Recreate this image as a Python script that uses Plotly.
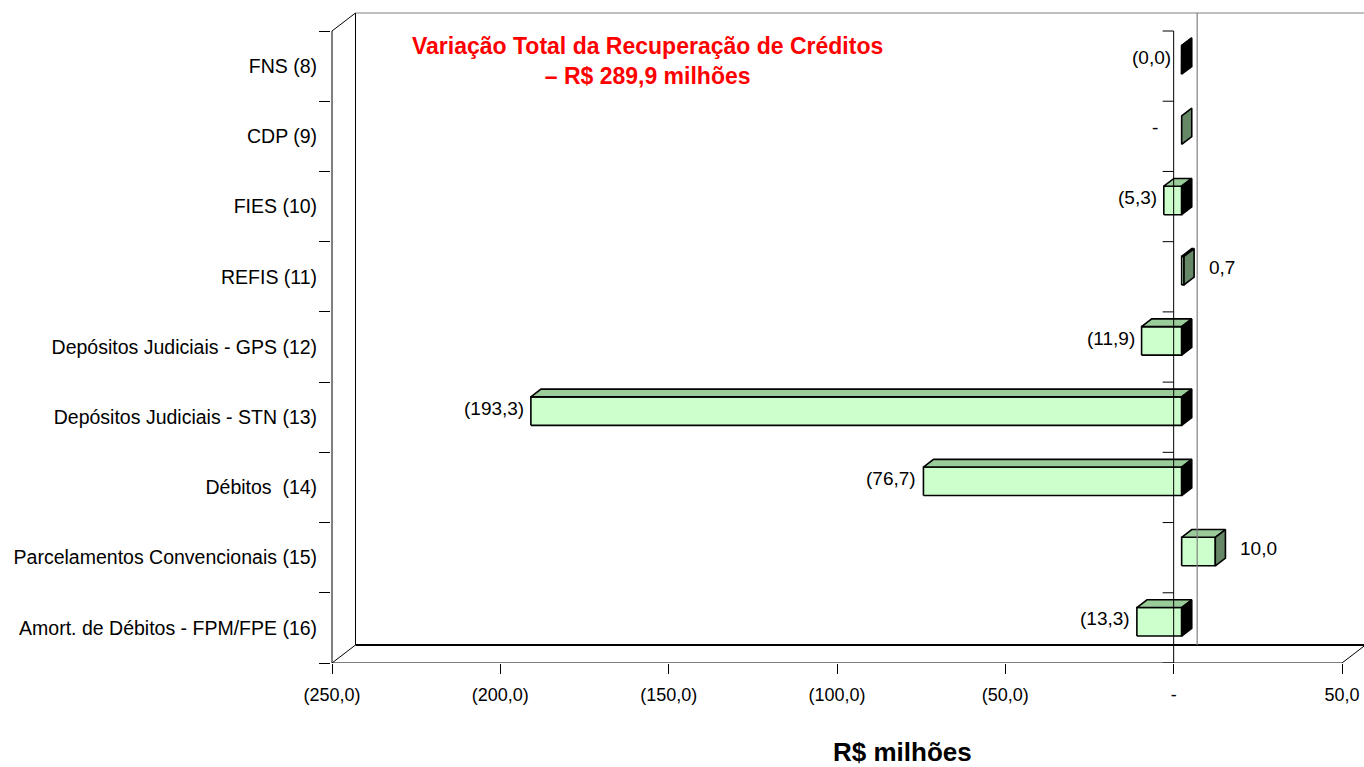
import plotly.graph_objects as go

# ---- data (top to bottom as in the chart) ----
categories = [
    "FNS (8)",
    "CDP (9)",
    "FIES (10)",
    "REFIS (11)",
    "Depósitos Judiciais - GPS (12)",
    "Depósitos Judiciais - STN (13)",
    "Débitos  (14)",
    "Parcelamentos Convencionais (15)",
    "Amort. de Débitos - FPM/FPE (16)",
]
values = [-0.04, 0.0, -5.3, 0.7, -11.9, -193.3, -76.7, 10.0, -13.3]
tick_values = [-250, -200, -150, -100, -50, 0, 50]
tick_labels = ["(250,0)", "(200,0)", "(150,0)", "(100,0)", "(50,0)", "-", "50,0"]
note_text = "Variação Total da Recuperação de Créditos<br>– R$ 289,9 milhões"
axis_title = "R$ milhões"


def fmt(v):
    if abs(v) < 1e-9:
        return "-"
    s = f"{abs(v):.1f}".replace(".", ",")
    return f"({s})" if v < 0 else s


# ---- geometry / layout constants ----
W, H = 1364, 767
L, R, T, B = 331, 0, 0, 104
pw, ph = W - L - R, H - T - B
sx = (1342 - 332) / 300.0          # px per value unit
sy = (663 - 31) / 9.0              # px per category unit
xmin = tick_values[0] - 1 / sx
xmax = xmin + pw / sx
ymax = ph / sy
Dx = 23.5 / sx                     # 3-D depth offset
Dy = 18.0 / sy
f1, f2 = 0.34, 0.77                # bar front/back depth fraction
h = 28.5 / sy                      # bar thickness
n = len(categories)

FRONT = "#CCFFCC"
TOP = "#99CC99"
SIDE_POS = "#668866"
SIDE_NEG = "#000000"
FONT = "Liberation Sans, Arial, sans-serif"

fig = go.Figure()


def P(x, y, f):
    return x + f * Dx, y + f * Dy


def poly(pts, color):
    xs = [p[0] for p in pts] + [pts[0][0]]
    ys = [p[1] for p in pts] + [pts[0][1]]
    fig.add_trace(go.Scatter(
        x=xs, y=ys, mode="lines", fill="toself", fillcolor=color,
        line=dict(color="black", width=1.6), hoverinfo="skip", showlegend=False))


annotations = []
for j, (cat, v) in enumerate(zip(categories, values)):
    i = n - 1 - j
    yc = i + 0.5
    yb, yt = yc - h / 2, yc + h / 2
    x0, x1 = min(0.0, v), max(0.0, v)
    if x1 - x0 > 1e-6:
        poly([P(x0, yb, f1), P(x1, yb, f1), P(x1, yt, f1), P(x0, yt, f1)], FRONT)
        poly([P(x0, yt, f1), P(x1, yt, f1), P(x1, yt, f2), P(x0, yt, f2)], TOP)
    side = SIDE_NEG if v < 0 else SIDE_POS
    poly([P(x1, yb, f1), P(x1, yt, f1), P(x1, yt, f2), P(x1, yb, f2)], side)

    ly = yc + 0.5 * Dy
    if v > 0:
        annotations.append(dict(x=v + f2 * Dx, y=ly, xref="x", yref="y", text=fmt(v),
                                 showarrow=False, xanchor="left", xshift=13,
                                 font=dict(size=19, color="black", family=FONT)))
    else:
        gap = -22 if abs(v) < 1e-9 else (-9 if abs(v) < 0.05 else -5)
        annotations.append(dict(x=v + f1 * Dx, y=ly, xref="x", yref="y", text=fmt(v),
                                 showarrow=False, xanchor="right", xshift=gap,
                                 font=dict(size=19, color="black", family=FONT)))

# ---- walls / frame lines ----
lx = tick_values[0]
rx = tick_values[-1]
shapes = []


def seg(xa, ya, xb, yb, color="black", width=1):
    shapes.append(dict(type="line", xref="x", yref="y", x0=xa, y0=ya, x1=xb, y1=yb,
                       line=dict(color=color, width=width), layer="above"))


seg(lx, 0, rx, 0)                                  # floor front edge
seg(rx, 0, rx + Dx, Dy)                            # floor right diagonal
seg(lx + Dx, Dy, xmax, Dy, width=2.2)              # back bottom edge
seg(lx, 0, lx + Dx, Dy)                            # left bottom diagonal
seg(lx, 0, lx, n)                                  # left front edge
seg(lx, n, lx + Dx, n + Dy)                        # left top diagonal
seg(lx + Dx, Dy, lx + Dx, n + Dy)                  # back wall left edge
seg(lx + Dx, n + Dy, xmax, n + Dy, color="#808080", width=1.2)   # back top edge
seg(Dx, Dy, Dx, n + Dy, color="#808080", width=1.2)             # back zero line
seg(0, 0, 0, n)                                    # front zero (category) axis
for k in range(n + 1):
    seg(-11 / sx, k, 0, k)

annotations.append(dict(x=(647 - L) / pw, y=1 - (61 - T) / ph, xref="paper", yref="paper",
                        xanchor="center", yanchor="middle",
                        text=f"<b>{note_text}</b>", showarrow=False, align="center",
                        font=dict(size=23, color="#FF0000", family=FONT)))
annotations.append(dict(x=(902 - L) / pw, y=-(752 - T - ph) / ph, xref="paper", yref="paper",
                        xanchor="center", yanchor="middle",
                        text=f"<b>{axis_title}</b>", showarrow=False,
                        font=dict(size=26, color="black", family=FONT)))

fig.update_layout(
    width=W, height=H,
    margin=dict(l=L, r=R, t=T, b=B, pad=0),
    paper_bgcolor="white", plot_bgcolor="white",
    showlegend=False,
    shapes=shapes,
    annotations=annotations,
    font=dict(family=FONT, color="black"),
    xaxis=dict(
        range=[xmin, xmax], showgrid=False, zeroline=False, showline=False,
        tickmode="array", tickvals=tick_values, ticktext=tick_labels,
        ticks="outside", ticklen=10, tickcolor="black", tickwidth=1,
        ticklabelstandoff=5,
        tickfont=dict(size=18, family=FONT, color="black"),
    ),
    yaxis=dict(
        range=[0, ymax], showgrid=False, zeroline=False, showline=False,
        tickmode="array", tickvals=[n - 1 - j + 0.5 for j in range(n)], ticktext=categories,
        ticks="outside", ticklen=9, tickcolor="rgba(0,0,0,0)",
        tickfont=dict(size=19.5, family=FONT, color="black"),
        minor=dict(tickmode="array", tickvals=list(range(n + 1)), ticks="outside",
                   ticklen=11, tickcolor="black", tickwidth=1, showgrid=False),
    ),
)

fig.write_html("out.html", config={"displayModeBar": False},
               post_script="document.body.style.margin='0px';")
